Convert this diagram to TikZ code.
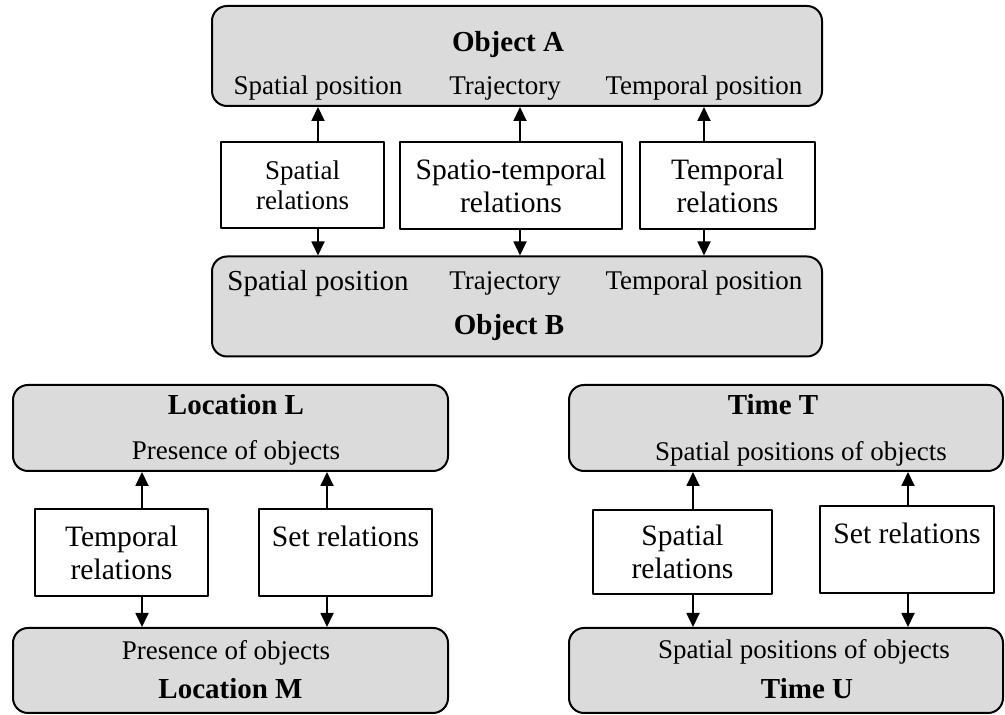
\documentclass[tikz,border=0pt]{standalone}
\usepackage{fontspec}
\setmainfont{Liberation Serif}
\usetikzlibrary{arrows.meta}
\definecolor{boxgray}{rgb}{0.86,0.86,0.86}

\begin{document}
\begin{tikzpicture}[line cap=round,line join=round,>={Triangle[length=7pt,width=6.5pt]},x=0.5pt,y=0.5pt,
	gbox/.style={draw,line width=1pt,fill=boxgray,rounded corners=7.5pt,inner sep=0pt},
	rbox/.style={draw,line width=1pt,fill=white,inner sep=0pt,align=center,font=\fontsize{14.8}{16.5}\selectfont},
	ttl/.style={anchor=base,inner sep=0pt,font=\fontsize{14.5}{17}\selectfont\bfseries},
	lbl/.style={anchor=base,inner sep=0pt,font=\fontsize{13.5}{15}\selectfont},
	arr/.style={->,line width=0.9pt}]
		\useasboundingbox (0,0) rectangle (1005,715);
		% object A / object B
		\node[gbox,minimum width=305pt,minimum height=50pt] (objA) at (517,659) {};
		\node[gbox,minimum width=305pt,minimum height=50pt] (objB) at (517,408.5) {};
		\node[ttl] (objAname) at (508,663) {Object A};
		\node[lbl] (objAsp) at (318,620) {Spatial position};
		\node[lbl] (objAtr) at (505,620) {Trajectory};
		\node[lbl] (objAtp) at (704,620) {Temporal position};
		\node[lbl,font=\fontsize{14.5}{16}\selectfont] (objBsp) at (318,424) {Spatial position};
		\node[lbl] (objBtr) at (505,425) {Trajectory};
		\node[lbl] (objBtp) at (704,425) {Temporal position};
		\node[ttl] (objBname) at (509,380) {Object B};
		\node[rbox,font=\fontsize{13.5}{15}\selectfont,minimum width=81.5pt,minimum height=43pt] (sprelA) at (302.5,530) {Spatial\\relations};
		\node[rbox,minimum width=111pt,minimum height=43.5pt] (strelA) at (511,529.5) {Spatio-temporal\\relations};
		\node[rbox,minimum width=87.5pt,minimum height=43.5pt] (tprelA) at (727.5,529.5) {Temporal\\relations};
		\coordinate (arA1) at (318,0);
		\coordinate (arA2) at (520,0);
		\coordinate (arA3) at (704,0);
		\draw[arr] (sprelA.north -| arA1) -- (arA1 |- objA.south);
		\draw[arr] (sprelA.south -| arA1) -- (arA1 |- objB.north);
		\draw[arr] (strelA.north -| arA2) -- (arA2 |- objA.south);
		\draw[arr] (strelA.south -| arA2) -- (arA2 |- objB.north);
		\draw[arr] (tprelA.north -| arA3) -- (arA3 |- objA.south);
		\draw[arr] (tprelA.south -| arA3) -- (arA3 |- objB.north);
		% location L / location M
		\node[gbox,minimum width=217.5pt,minimum height=43pt] (locL) at (230.5,287) {};
		\node[gbox,minimum width=217.5pt,minimum height=42.5pt] (locM) at (230.5,44.5) {};
		\node[ttl] (locLname) at (236,300) {Location L};
		\node[lbl] (locLpr) at (236,255) {Presence of objects};
		\node[lbl] (locMpr) at (226,55) {Presence of objects};
		\node[ttl] (locMname) at (230.5,16) {Location M};
		\node[rbox,minimum width=86.5pt,minimum height=43.5pt] (tprelL) at (121.5,162.5) {Temporal\\relations};
		\node[rbox,minimum width=86.5pt,minimum height=43.5pt] (setrelL) at (345.5,162.5) {Set relations\\~};
		\coordinate (arL1) at (142,0);
		\coordinate (arL2) at (327,0);
		\draw[arr] (tprelL.north -| arL1) -- (arL1 |- locL.south);
		\draw[arr] (tprelL.south -| arL1) -- (arL1 |- locM.north);
		\draw[arr] (setrelL.north -| arL2) -- (arL2 |- locL.south);
		\draw[arr] (setrelL.south -| arL2) -- (arL2 |- locM.north);
		% time T / time U
		\node[gbox,minimum width=217pt,minimum height=43pt] (timeT) at (786,287) {};
		\node[gbox,minimum width=217pt,minimum height=42.5pt] (timeU) at (786,44.5) {};
		\node[ttl] (timeTname) at (773,300) {Time T};
		\node[lbl] (timeTsp) at (801,254) {Spatial positions of objects};
		\node[lbl] (timeUsp) at (804,56) {Spatial positions of objects};
		\node[ttl] (timeUname) at (807,16) {Time U};
		\node[rbox,minimum width=89.5pt,minimum height=42pt] (sprelT) at (682.5,163) {Spatial\\relations};
		\node[rbox,minimum width=87pt,minimum height=43.5pt] (setrelT) at (907,165.5) {Set relations\\~};
		\coordinate (arT1) at (693,0);
		\coordinate (arT2) at (908,0);
		\draw[arr] (sprelT.north -| arT1) -- (arT1 |- timeT.south);
		\draw[arr] (sprelT.south -| arT1) -- (arT1 |- timeU.north);
		\draw[arr] (setrelT.north -| arT2) -- (arT2 |- timeT.south);
		\draw[arr] (setrelT.south -| arT2) -- (arT2 |- timeU.north);
\end{tikzpicture}
\end{document}
